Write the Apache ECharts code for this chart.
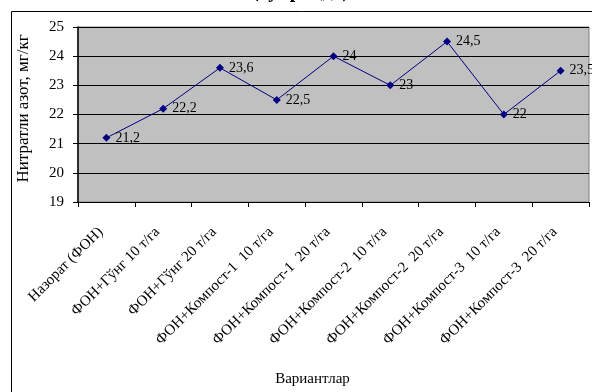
<!DOCTYPE html>
<html><head><meta charset="utf-8">
<style>html,body{margin:0;padding:0;background:#fff}#c{width:592px;height:392px}</style>
<script src="https://cdn.jsdelivr.net/npm/echarts@6/dist/echarts.min.js"></script>
</head><body><div id="c"></div>
<script>
const categories = ["Назорат (ФОН)","ФОН+Гўнг 10 т/га","ФОН+Гўнг 20 т/га","ФОН+Компост-1  10 т/га","ФОН+Компост-1  20 т/га","ФОН+Компост-2  10 т/га","ФОН+Компост-2  20 т/га","ФОН+Компост-3  10 т/га","ФОН+Компост-3  20 т/га"];
const values = [21.2, 22.2, 23.6, 22.5, 24, 23, 24.5, 22, 23.5];
const yTicks = [19, 20, 21, 22, 23, 24, 25];
const F = "'Liberation Serif','Times New Roman',serif";
const chart = echarts.init(document.getElementById('c'), null, {renderer:'canvas'});
chart.setOption({
  animation:false,
  backgroundColor:'#fff',
  graphic:[
    {type:'rect', shape:{x:11.5,y:11.5,width:640,height:440}, style:{fill:null,stroke:'#000',lineWidth:1}, z:-1},
    {type:'text', left:252, top:-18, style:{text:'(тупроқда)', font:"bold 20px "+F, fill:'#000'}}
  ],
  grid:{left:78, top:27, right:3, bottom:190, show:true, backgroundColor:'#C0C0C0', borderColor:'#808080', borderWidth:1},
  xAxis:{
    type:'category', data:categories, boundaryGap:true,
    name:'Вариантлар', nameLocation:'middle', nameGap:170,
    nameTextStyle:{fontFamily:F, fontSize:15, color:'#000', padding:[0,42,0,0]},
    axisLine:{lineStyle:{color:'#000', width:1}},
    axisTick:{show:true, length:5, lineStyle:{color:'#000'}},
    axisLabel:{interval:0, rotate:45, fontFamily:F, fontSize:15, color:'#000', margin:22, padding:[0,8,0,0]}
  },
  yAxis:{
    type:'value', min:yTicks[0], max:yTicks[yTicks.length-1], interval:1,
    name:'Нитратли азот, мг/кг', nameLocation:'middle', nameGap:46, nameRotate:90,
    nameTextStyle:{fontFamily:F, fontSize:17, color:'#000', padding:[0,0,0,12]},
    axisLine:{show:true, lineStyle:{color:'#000', width:1.5}},
    axisTick:{show:true, length:5, lineStyle:{color:'#000'}},
    axisLabel:{fontFamily:F, fontSize:15, color:'#000', margin:14},
    splitLine:{show:true, lineStyle:{color:'#000', width:1}}
  },
  series:[{
    type:'line', data:values, symbol:'diamond', symbolSize:8,
    itemStyle:{color:'#000080'}, lineStyle:{color:'#000080', width:1},
    label:{show:true, position:'right', distance:5, fontFamily:F, fontSize:14, color:'#000',
      formatter:p=>String(p.value).replace('.',',')}
  }]
});
</script></body></html>
